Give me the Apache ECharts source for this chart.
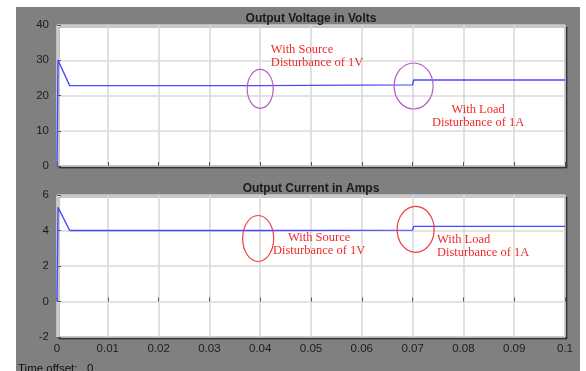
<!DOCTYPE html>
<html><head><meta charset="utf-8">
<script src="https://cdn.jsdelivr.net/npm/echarts@6/dist/echarts.min.js"></script>
<style>
html,body{margin:0;padding:0;background:#fff;}
#bg{position:absolute;left:16px;top:7px;width:564px;height:364px;background:#808080;}
#c{position:absolute;left:0;top:0;width:586px;height:371px;}
</style></head>
<body>
<div id="bg"></div>
<div id="c"></div>
<script>
// ---- data ----
const titles = ['Output Voltage in Volts', 'Output Current in Amps'];
const voltTime = [0, 0.0002, 0.0025, 0.0400, 0.0401, 0.0700, 0.0702, 0.1];
const voltVal  = [0, 30.0, 22.8, 22.8, 23.0, 23.0, 24.4, 24.4];
const currTime = [0, 0.0002, 0.0025, 0.0400, 0.0401, 0.0700, 0.0702, 0.1];
const currVal  = [0, 5.3, 4.0, 4.0, 4.02, 4.02, 4.23, 4.23];
const xTicks = [0, 0.01, 0.02, 0.03, 0.04, 0.05, 0.06, 0.07, 0.08, 0.09, 0.1];
const voltTicks = [0, 10, 20, 30, 40];
const currTicks = [-2, 0, 2, 4, 6];
// annotation anchors (data units): [t, value]
const voltEllipses = [[0.0400, 21.9], [0.0702, 22.7]];
const currEllipses = [[0.0396, 3.55], [0.0706, 4.06]];
const voltNotes = [[0.0421, 31.2, 'With Source\nDisturbance of 1V', 'left'], [0.0829, 14.0, 'With Load\nDisturbance of 1A', 'center']];
const currNotes = [[0.0516, 3.21, 'With Source\nDisturbance of 1V', 'center'], [0.0748, 3.1, 'With Load\nDisturbance of 1A', 'left']];
const timeOffsetText = 'Time offset:   0';

// ---- styles ----
const ellipseSizes = [[[13, 19.5], [19.5, 23]], [[15.5, 23], [18.5, 23]]];
const ellipseColors = ['#b45ec4', '#f03c3c'];
const lineColor = '#4a4aff';
const labelColor = '#1c1c1c';

const pair = (ts, vs) => ts.map((t, i) => [t, vs[i]]);

const chart = echarts.init(document.getElementById('c'), null, {renderer: 'canvas'});

const grids = [
  {left: 57, top: 25, width: 508, height: 141},
  {left: 57, top: 195, width: 508, height: 142}
];

function yAxis(gi, ticks) {
  return {
    type: 'value', gridIndex: gi, min: ticks[0], max: ticks[ticks.length - 1],
    interval: ticks[1] - ticks[0],
    axisLine: {show: false},
    axisTick: {show: true, inside: true, length: 4, lineStyle: {color: '#555'}},
    axisLabel: {color: labelColor, fontFamily: 'Liberation Sans, Arial', fontSize: 11.5, margin: 8},
    splitLine: {show: true, lineStyle: {color: '#dadada', width: 1.6}}
  };
}
function xAxis(gi, showLabels) {
  return {
    type: 'value', gridIndex: gi, min: 0, max: 0.1, interval: 0.01,
    axisLine: {show: false},
    axisTick: {show: true, inside: true, length: 4, lineStyle: {color: '#555'}},
    axisLabel: {show: showLabels, color: labelColor, fontFamily: 'Liberation Sans, Arial', fontSize: 11.5, margin: 6,
      formatter: v => (Math.round(v * 100) / 100).toString()},
    splitLine: {show: true, lineStyle: {color: '#dadada', width: 1.6}}
  };
}

function ellipseSeries(gi, anchors, sizes, color) {
  return {
    type: 'custom', xAxisIndex: gi, yAxisIndex: gi, z: 5, silent: true,
    data: anchors.map((a, i) => [a[0], a[1], i]),
    renderItem: (params, api) => {
      const p = api.coord([api.value(0), api.value(1)]);
      const s = sizes[api.value(2)];
      return {type: 'ellipse', shape: {cx: p[0], cy: p[1], rx: s[0], ry: s[1]},
        style: {fill: 'none', stroke: color, lineWidth: 1.2}};
    }
  };
}
function noteSeries(gi, notes) {
  return {
    type: 'custom', xAxisIndex: gi, yAxisIndex: gi, z: 6, silent: true,
    data: notes.map((n, i) => [n[0], n[1], i]),
    renderItem: (params, api) => {
      const n = notes[api.value(2)];
      const p = api.coord([n[0], n[1]]);
      return {type: 'text', x: p[0], y: p[1],
        style: {text: n[2], fill: '#f22a2a', font: '12.5px "Liberation Serif", "DejaVu Serif", serif',
          align: n[3], verticalAlign: 'middle', lineHeight: 13}};
    }
  };
}

chart.setOption({
  animation: false,
  title: titles.map((t, i) => ({
    text: t, left: 306, top: i === 0 ? 8 : 178, textAlign: 'center',
    textStyle: {fontFamily: 'Liberation Sans, Arial', fontSize: 12, fontWeight: 'bold', color: '#1a1a1a'}
  })),
  grid: grids.map(g => Object.assign({show: true, backgroundColor: '#ffffff', borderColor: '#3a3a3a', borderWidth: 1,
    shadowColor: 'rgba(0,0,0,0.45)', shadowOffsetX: 2, shadowOffsetY: 2, shadowBlur: 0}, g)),
  xAxis: [xAxis(0, false), xAxis(1, true)],
  yAxis: [yAxis(0, voltTicks), yAxis(1, currTicks)],
  series: [
    {type: 'line', xAxisIndex: 0, yAxisIndex: 0, data: pair(voltTime, voltVal), showSymbol: false,
      lineStyle: {color: lineColor, width: 1.4}, z: 4},
    {type: 'line', xAxisIndex: 1, yAxisIndex: 1, data: pair(currTime, currVal), showSymbol: false,
      lineStyle: {color: lineColor, width: 1.4}, z: 4},
    ellipseSeries(0, voltEllipses, ellipseSizes[0], ellipseColors[0]),
    ellipseSeries(1, currEllipses, ellipseSizes[1], ellipseColors[1]),
    noteSeries(0, voltNotes),
    noteSeries(1, currNotes)
  ],
  graphic: [{type: 'text', left: 18, top: 363,
    style: {text: timeOffsetText, fill: '#111', font: '11.5px "Liberation Sans", Arial'}}]
});
</script>
</body></html>
